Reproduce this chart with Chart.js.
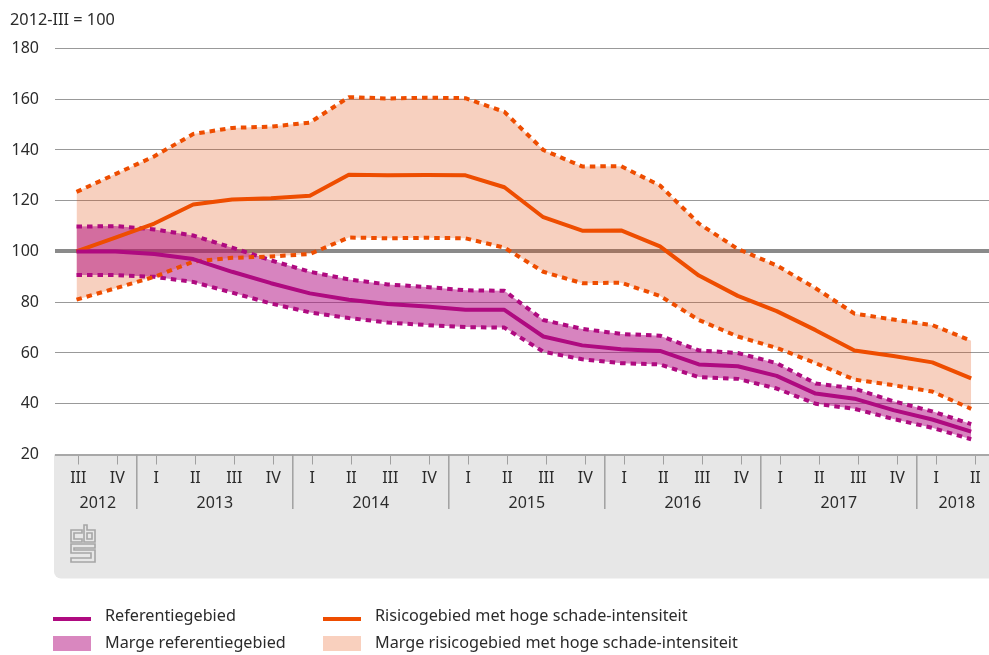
<!DOCTYPE html>
<html><head><meta charset="utf-8">
<style>html,body{margin:0;padding:0;background:#fff}#w{position:relative;width:989px;height:655px}</style>
<script src="https://cdn.jsdelivr.net/npm/chart.js@4"></script>
</head><body><div id="w"><canvas id="c" width="989" height="655"></canvas></div>
<script>
const quarters=['III','IV','I','II','III','IV','I','II','III','IV','I','II','III','IV','I','II','III','IV','I','II','III','IV','I','II'];
const yearLabels=['2012','2013','2014','2015','2016','2017','2018'];
const yearQuarterCounts=[2,4,4,4,4,4,2];
const yTicks=[20,40,60,80,100,120,140,160,180];
const risico=[100,105.5,111,118.5,120.5,121,122,130.2,130,130.1,130,125.3,113.5,108.2,108.3,102,90.5,82.5,76.5,69,61,58.8,56.3,50];
const risicoHoog=[123.5,130.5,137.5,146.3,148.7,149.2,150.8,160.8,160.3,160.6,160.4,155,140,133.5,133.6,126,111,101,94.5,85.5,75.5,73.2,71,64.8];
const risicoLaag=[81,85.5,90,96,97.5,98,99,105.5,105.2,105.4,105.2,101.5,92,87.5,87.7,82.5,73,66.5,62,56,49.5,47.3,44.8,38];
const referentie=[100,100,99,97,92,87.5,83.5,81,79.3,78.3,77,77,66.5,63,61.5,60.8,55.5,54.8,51,44,42,37.5,33.8,29];
const referentieHoog=[109.8,110,108.7,106.3,101.5,96.5,92,89,87,86,84.7,84.5,73,69.5,67.5,66.8,61,60,56,48,46,41,37,32];
const referentieLaag=[90.7,90.7,90,88,83.8,79.5,76,73.8,72,71,70.2,70,60.5,57.5,56,55.5,50.5,49.8,46,40,38,34,30.5,26];
const unitTitle='2012-III = 100';
const legendLabels=['Referentiegebied','Risicogebied met hoge schade-intensiteit','Marge referentiegebied','Marge risicogebied met hoge schade-intensiteit'];

const FONT='"Noto Sans"';
const TXT='#2b2b2b',PURPLE='#AF0A80',ORANGE='#EE4D00',PEACH='rgba(222,72,5,0.255)',PLUM='rgba(175,10,128,0.5)',GRID='#999999';
const pts=a=>a.map((v,i)=>({x:i,y:v}));
const tickPos=i=>i*1.0026+0.046;
const line=(label,data,color,order,dash,extra)=>Object.assign({label,data:pts(data),borderColor:color,borderWidth:4,borderDash:dash?[5.5,5]:[],pointRadius:0,tension:0,fill:false,order,borderCapStyle:'butt',borderJoinStyle:'round'},extra||{});

const decor={id:'decor',
 beforeDraw(chart){
  const {ctx,chartArea:a}=chart;
  ctx.save();
  ctx.fillStyle='#e7e7e7';
  ctx.beginPath();ctx.roundRect(a.left-1,a.bottom,a.right-a.left+1,124,[0,0,0,7]);ctx.fill();
  ctx.restore();
 },
 afterDraw(chart){
  const {ctx,chartArea:a,scales:{x}}=chart;
  ctx.save();
  let start=0;ctx.textAlign='center';ctx.textBaseline='middle';ctx.font='16px '+FONT;
  yearLabels.forEach((y,i)=>{
   const end=start+yearQuarterCounts[i];
   const p0=x.getPixelForValue(tickPos(start-0.5)),p1=x.getPixelForValue(tickPos(end-0.5));
   if(i<yearLabels.length-1){ctx.strokeStyle='#a0a0a0';ctx.lineWidth=1.5;ctx.beginPath();ctx.moveTo(p1,a.bottom);ctx.lineTo(p1,509);ctx.stroke();}
   ctx.fillStyle=TXT;
   const c=i===yearLabels.length-1?(p0+p1)/2+1:(p0+p1)/2;
   ctx.fillText(y,c,503);
   start=end;
  });
  ctx.strokeStyle='#a6a6a6';ctx.lineWidth=1.6;ctx.lineJoin='miter';
  const poly=(p)=>{ctx.beginPath();p.forEach((q,i)=>i?ctx.lineTo(q[0],q[1]):ctx.moveTo(q[0],q[1]));ctx.closePath();ctx.stroke();};
  poly([[82,530],[71,530],[71,542],[82,542],[82,539],[74,539],[74,533],[82,533]]);
  poly([[84,525],[87,525],[87,530],[95,530],[95,542],[84,542]]);
  poly([[87,533],[92,533],[92,539],[87,539]]);
  poly([[95,544],[71,544],[71,553],[91,553],[91,558],[71,558],[71,562],[95,562],[95,550],[74,550],[74,548],[95,548]]);
  ctx.textAlign='left';ctx.font='16.2px '+FONT;
  const col=[105,375],rows=[616,643];
  ctx.fillStyle=PURPLE;ctx.fillRect(53,617,38,4);
  ctx.fillStyle=ORANGE;ctx.fillRect(323,617,38,4);
  ctx.fillStyle='#D987BF';ctx.fillRect(53,636,38,15);
  ctx.fillStyle='#F9D0BE';ctx.fillRect(323,636,38,15);
  ctx.fillStyle=TXT;
  ctx.fillText(legendLabels[0],col[0],rows[0]);
  ctx.fillText(legendLabels[1],col[1],rows[0]);
  ctx.fillText(legendLabels[2],col[0],rows[1]);
  ctx.fillText(legendLabels[3],col[1],rows[1]);
  ctx.restore();
 }};

new Chart(document.getElementById('c'),{
 type:'line',
 data:{datasets:[
  line(legendLabels[0],referentie,PURPLE,0),
  line(legendLabels[1],risico,ORANGE,1),
  line('Boven risico',risicoHoog,ORANGE,2,true),
  line('Onder risico',risicoLaag,ORANGE,2,true),
  line('Onder referentie',referentieLaag,PURPLE,3,true),
  line(legendLabels[2],referentieHoog,PURPLE,3,true,{fill:'-1',backgroundColor:PLUM}),
  line('Marge onder',risicoLaag,'transparent',4,false,{borderWidth:0}),
  line(legendLabels[3],risicoHoog,'transparent',4,false,{borderWidth:0,fill:'-1',backgroundColor:PEACH})
 ]},
 options:{
  responsive:false,animation:false,
  layout:{padding:{left:10,right:0,top:0,bottom:0}},
  plugins:{
   legend:{display:false},tooltip:{enabled:false},
   title:{display:true,text:unitTitle,align:'start',color:TXT,font:{family:FONT,size:16.3,weight:'normal'},padding:{top:11,bottom:17.9}}
  },
  scales:{
   x:{type:'linear',min:-0.553,max:23.458,
    afterBuildTicks(s){s.ticks=quarters.map((_,i)=>({value:tickPos(i)}));},
    afterFit(s){s.height=200.5;},
    border:{display:false},
    grid:{drawOnChartArea:false,drawTicks:true,tickLength:10,tickColor:'#a0a0a0',lineWidth:1},
    ticks:{autoSkip:false,maxRotation:0,padding:4,color:TXT,font:{family:FONT,size:16},callback:(v,i)=>quarters[i]}
   },
   y:{min:20,max:180,
    afterBuildTicks(s){s.ticks=yTicks.map(v=>({value:v}));},
    afterFit(s){s.width=45;},
    border:{display:false},
    grid:{drawTicks:false,color:c=>c.tick.value===100?'#8a8a8a':(c.tick.value===20?'#a8a8a8':GRID),lineWidth:c=>c.tick.value===100?4:(c.tick.value===20?2:1)},
    ticks:{padding:16,color:TXT,font:{family:FONT,size:16}}
   }
  }
 },
 plugins:[decor]
});
</script></body></html>
